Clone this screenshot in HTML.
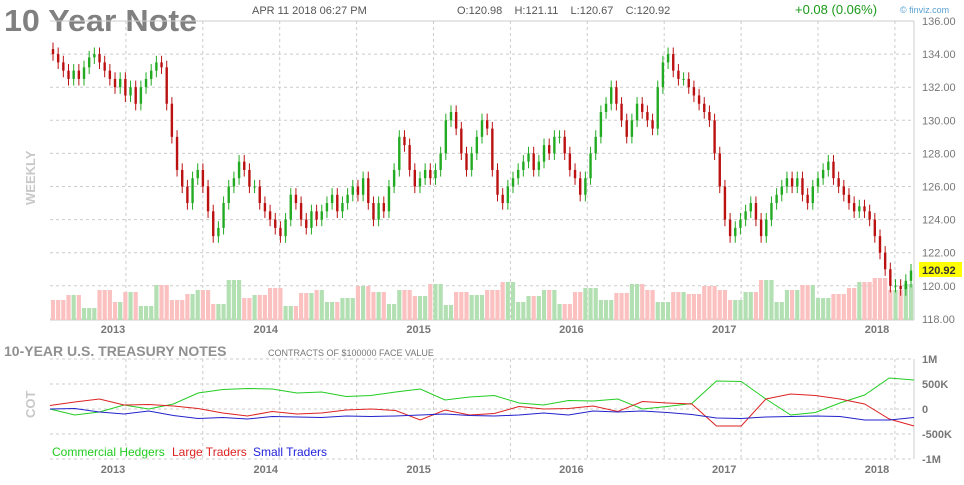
<!DOCTYPE html>
<html><head><meta charset="utf-8"><style>
body{margin:0;background:#fff;width:964px;height:480px;overflow:hidden;font-family:"Liberation Sans",sans-serif}
svg text{font-family:"Liberation Sans",sans-serif}
</style></head><body>
<svg id="c" width="964" height="480" xmlns="http://www.w3.org/2000/svg">
<text x="4" y="31" font-size="31" font-weight="bold" fill="#808080" textLength="193" lengthAdjust="spacingAndGlyphs">10 Year Note</text>
<text x="252" y="14" font-size="11" fill="#555">APR 11 2018 06:27 PM</text>
<text x="457" y="14" font-size="11" fill="#555" xml:space="preserve">O:120.98    H:121.11    L:120.67    C:120.92</text>
<text x="795" y="14" font-size="13" fill="#1a9a1a">+0.08 (0.06%)</text>
<text x="900" y="13" font-size="9" fill="#5aa0d0">© finviz.com</text>
<text transform="translate(35,205) rotate(-90)" font-size="13" font-weight="bold" fill="#c8c8c8">WEEKLY</text>
<text x="4" y="356" font-size="14" font-weight="bold" fill="#909090">10-YEAR U.S. TREASURY NOTES</text>
<text x="268" y="356" font-size="9" fill="#777">CONTRACTS OF $100000 FACE VALUE</text>
<text transform="translate(35,418) rotate(-90)" font-size="13" font-weight="bold" fill="#c8c8c8">COT</text>
<g id="g"></g>
<text x="52" y="456" font-size="12" fill="#22cc22">Commercial Hedgers</text>
<text x="172" y="456" font-size="12" fill="#dd2222">Large Traders</text>
<text x="253" y="456" font-size="12" fill="#2222dd">Small Traders</text>
</svg>
<script>
const closes=[134,133.5,133,132.5,133,132.5,133.2,133.8,134,133.5,133,132.5,132,132.5,131.5,132,131,132,132.5,133,133.5,133.2,131,129,127,126,125,126.5,127,126,124.5,123,123.5,125,126,126.5,127.5,127,126,126,125,124.5,124,123.5,123,124,125.5,125,124,123.5,124.5,124,124.5,125,125.5,124.5,125,125.5,126,125.5,126.5,125,124,125,124.5,126,127,129,128.5,127,126,126.5,127,126.5,127,128,130,130.5,129.5,128,127,128,129,130,129.5,127,125.5,125,126,126.5,127,127.5,128,127,127.5,128.5,128,129,129,128,127,126.5,125.5,126.5,128,129,130.5,131,132,131,130,129,130,131,130.5,130,129.5,132,133.5,134,133,132.5,132.5,132,131.5,131,130.5,130,128,126,124,123,123.5,124,124.5,125,124,123,124,125,125.5,126,126.5,126,126.5,125.5,125,126,126.5,127,127.5,126.5,126,125.5,125,124.5,124.8,124.5,124,123,122,121,120,120,119.8,120.3,120.92];
const vols=[20,25,12,30,18,28,14,35,20,26,30,16,40,22,25,32,14,27,30,18,22,34,28,16,30,24,36,15,28,25,30,38,18,24,30,16,28,32,20,27,36,30,18,28,26,34,30,20,28,40,18,30,35,22,26,32,38,42,30,36];
const cotGreen=[0,-120,-60,80,0,100,320,390,410,400,320,340,250,270,340,400,180,240,270,120,80,170,160,200,0,50,110,560,550,200,-120,-70,120,280,620,580];
const cotRed=[70,140,200,80,90,60,10,-80,-140,-50,-100,-80,-20,0,-30,-220,-20,-120,-90,50,0,10,60,-50,150,120,100,-340,-340,200,300,270,200,100,-200,-340];
const cotBlue=[0,10,-60,-100,-40,-130,-190,-170,-200,-150,-160,-170,-140,-150,-140,-120,-100,-130,-140,-120,-80,-120,-40,-60,-40,-70,-110,-180,-190,-160,-150,-140,-150,-220,-220,-170];
const priceTicks=[136,134,132,130,128,126,124,122,120,118];
const cotTicks=[1000,500,0,-500,-1000];
const cotTickLabels=["1M","500K","0","-500K","-1M"];
const years=[2013,2014,2015,2016,2017,2018];

const NS="http://www.w3.org/2000/svg",g=document.getElementById('g');
function el(t,a){const e=document.createElementNS(NS,t);for(const k in a)e.setAttribute(k,a[k]);g.appendChild(e);return e;}
const L=50,R=914;
const py=v=>21+(136-v)*16.55;
const cy=v=>409-v*0.05;
const yx=y=>113+(y-2013)*152.8;
for(let i=0;i<12;i++){const x=113-64+i*76.9;if(x>L&&x<R){const l=el('line',{x1:x,x2:x,y1:21,y2:320,stroke:'#ccc','stroke-dasharray':'3,3'});
const l2=el('line',{x1:x,x2:x,y1:359,y2:459,stroke:'#ccc','stroke-dasharray':'3,3'});}}
priceTicks.forEach(v=>{const l=el('line',{x1:L,x2:R,y1:py(v),y2:py(v),stroke:'#ccc','stroke-dasharray':'3,3'});
const t=el('text',{x:922,y:py(v)+4,'font-size':11,fill:'#777'});t.textContent=v.toFixed(2);});
cotTicks.forEach((v,i)=>{const l=el('line',{x1:L,x2:R,y1:cy(v),y2:cy(v),stroke:'#ccc','stroke-dasharray':'3,3'});
const t=el('text',{x:922,y:cy(v)+4,'font-size':11,'font-weight':'bold',fill:'#777'});t.textContent=cotTickLabels[i];});
years.forEach(y=>{[333,473].forEach(yy=>{const t=el('text',{x:yx(y),y:yy,'font-size':11,'font-weight':'bold',fill:'#777','text-anchor':'middle'});t.textContent=y;});});
[[L,21,R,21],[R,21,R,320],[L,320,R,320],[R,359,R,459]].forEach(a=>{const l=el('line',{x1:a[0],y1:a[1],x2:a[2],y2:a[3],stroke:'#ccc'});});
const N=closes.length,step=(R-L-6)/(N-1);
for(let i=0;i<N;i++){const x=L+3+i*step,o=i?closes[i-1]:closes[0]+0.3,c=closes[i],up=c>=o;
const v=vols[Math.floor(i*vols.length/N)];
const b=el('rect',{x:x-step/2+0.5,y:320-v,width:step-1,height:v,fill:up?'#b3e0b3':'#fbc0c0'});}
for(let i=0;i<N;i++){const x=L+3+i*step,o=i?closes[i-1]:closes[0]+0.3,c=closes[i],up=c>=o,col=up?'#22aa22':'#bb1111';
const hi=Math.max(o,c)+0.4,lo=Math.min(o,c)-0.4;
const w=el('line',{x1:x,x2:x,y1:py(hi),y2:py(lo),stroke:col});
const r=el('rect',{x:x-1.2,y:py(Math.max(o,c)),width:2.4,height:Math.max(1,Math.abs(py(o)-py(c))),fill:col});}
const lp=el('rect',{x:919,y:262,width:43,height:15,fill:'#ffff00'});
const lt=el('text',{x:922,y:274,'font-size':11,'font-weight':'bold',fill:'#333'});lt.textContent='120.92';
[[cotGreen,'#22cc22','commercial-line'],[cotRed,'#dd2222','large-traders-line'],[cotBlue,'#2222cc','small-traders-line']].forEach(s=>{
const n=s[0].length,st=(R-L)/(n-1);const d=s[0].map((v,i)=>(i?'L':'M')+(L+i*st).toFixed(1)+','+cy(v).toFixed(1)).join('');
const p=el('path',{d:d,fill:'none',stroke:s[1],'stroke-width':1});});
</script>
</body></html>
